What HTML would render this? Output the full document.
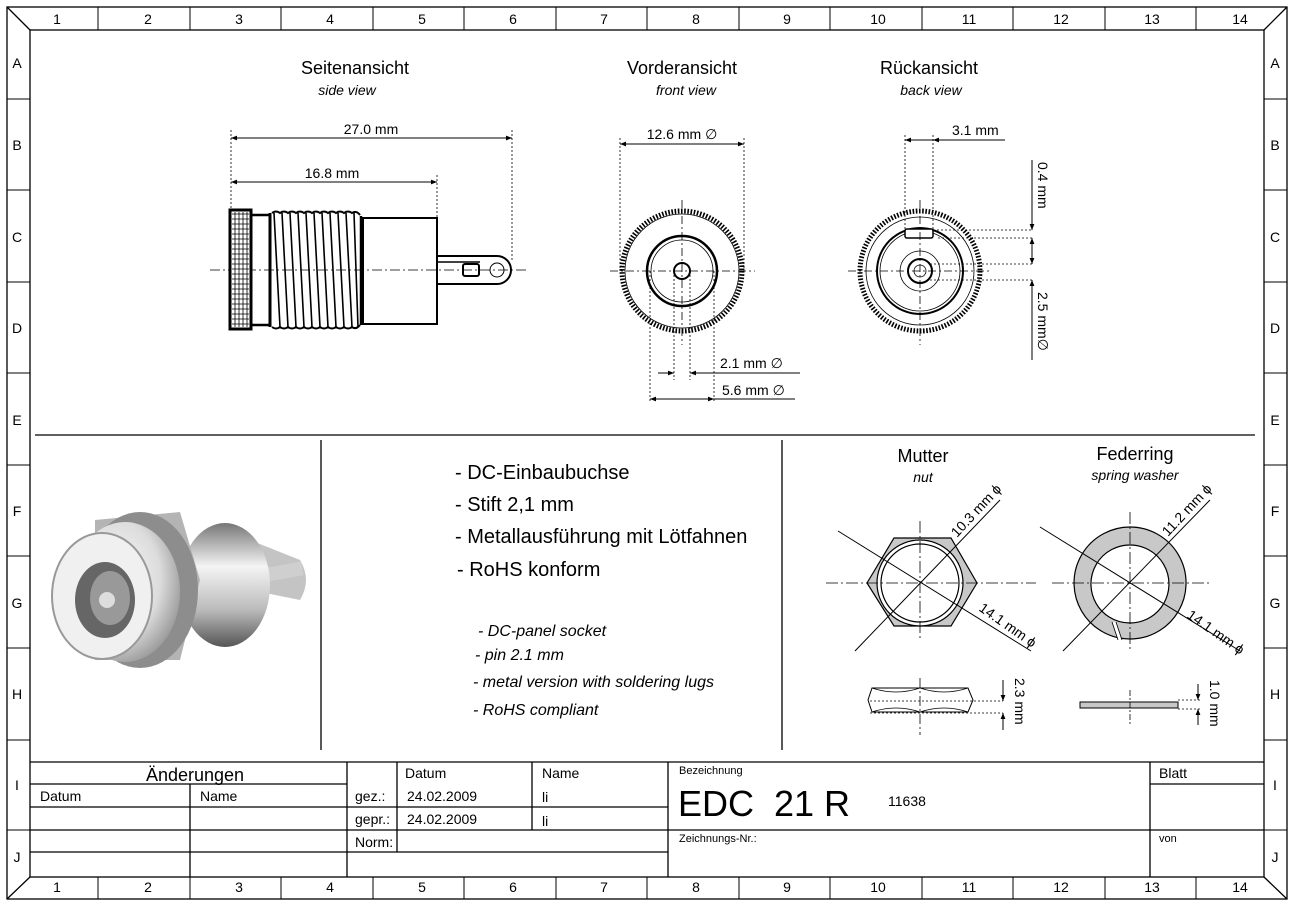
<!DOCTYPE html>
<html><head><meta charset="utf-8"><style>
html,body{margin:0;padding:0;background:#fff}
svg{display:block;font-family:"Liberation Sans",Arial,sans-serif}
</style></head><body>
<svg width="1301" height="911" viewBox="0 0 1301 911" xmlns="http://www.w3.org/2000/svg">
<defs>
<marker id="a" viewBox="0 0 10 10" refX="10" refY="5" markerWidth="9" markerHeight="6" orient="auto-start-reverse" markerUnits="userSpaceOnUse"><path d="M0,1 L10,5 L0,9z" fill="#000"/></marker>
<radialGradient id="g1" cx="0.4" cy="0.4" r="0.7"><stop offset="0" stop-color="#fafafa"/><stop offset="0.6" stop-color="#dcdcdc"/><stop offset="1" stop-color="#8a8a8a"/></radialGradient>
<linearGradient id="g2" x1="0" y1="0" x2="0" y2="1"><stop offset="0" stop-color="#777"/><stop offset="0.35" stop-color="#f4f4f4"/><stop offset="0.7" stop-color="#bbb"/><stop offset="1" stop-color="#555"/></linearGradient>
</defs>
<g fill="none" stroke="#000" stroke-width="1.3">
<rect x="7" y="7" width="1280" height="892"/>
<rect x="30" y="30" width="1234" height="847"/>
<line x1="7" y1="7" x2="30" y2="30"/><line x1="1287" y1="7" x2="1264" y2="30"/>
<line x1="7" y1="899" x2="30" y2="877"/><line x1="1287" y1="899" x2="1264" y2="877"/>
<g stroke-width="1">
<path d="M98,7V30M190,7V30M281,7V30M373,7V30M464,7V30M556,7V30M647,7V30M739,7V30M830,7V30M922,7V30M1013,7V30M1105,7V30M1196,7V30"/>
<path d="M98,877V899M190,877V899M281,877V899M373,877V899M464,877V899M556,877V899M647,877V899M739,877V899M830,877V899M922,877V899M1013,877V899M1105,877V899M1196,877V899"/>
<path d="M7,99H30M7,190H30M7,282H30M7,373H30M7,465H30M7,556H30M7,648H30M7,740H30M7,830H30"/>
<path d="M1264,99H1287M1264,190H1287M1264,282H1287M1264,373H1287M1264,465H1287M1264,556H1287M1264,648H1287M1264,740H1287M1264,830H1287"/>
</g>
<line x1="35" y1="435" x2="1255" y2="435"/>
<line x1="321" y1="440" x2="321" y2="750"/>
<line x1="782" y1="440" x2="782" y2="750"/>
<path d="M30,762H1264M30,784H347M30,807H668M30,830H1264M30,852H668M1150,784H1264"/>
<path d="M190,784V877M347,762V877M397,762V852M532,762V830M668,762V877M1150,762V877"/>
</g>
<g font-size="14" text-anchor="middle">
<text x="57" y="24">1</text><text x="148" y="24">2</text><text x="239" y="24">3</text><text x="330" y="24">4</text><text x="422" y="24">5</text><text x="513" y="24">6</text><text x="604" y="24">7</text><text x="696" y="24">8</text><text x="787" y="24">9</text><text x="878" y="24">10</text><text x="969" y="24">11</text><text x="1061" y="24">12</text><text x="1152" y="24">13</text><text x="1240" y="24">14</text>
<text x="57" y="892">1</text><text x="148" y="892">2</text><text x="239" y="892">3</text><text x="330" y="892">4</text><text x="422" y="892">5</text><text x="513" y="892">6</text><text x="604" y="892">7</text><text x="696" y="892">8</text><text x="787" y="892">9</text><text x="878" y="892">10</text><text x="969" y="892">11</text><text x="1061" y="892">12</text><text x="1152" y="892">13</text><text x="1240" y="892">14</text>
<text x="17" y="68">A</text><text x="17" y="150">B</text><text x="17" y="242">C</text><text x="17" y="333">D</text><text x="17" y="425">E</text><text x="17" y="516">F</text><text x="17" y="608">G</text><text x="17" y="699">H</text><text x="17" y="790">I</text><text x="17" y="862">J</text>
<text x="1275" y="68">A</text><text x="1275" y="150">B</text><text x="1275" y="242">C</text><text x="1275" y="333">D</text><text x="1275" y="425">E</text><text x="1275" y="516">F</text><text x="1275" y="608">G</text><text x="1275" y="699">H</text><text x="1275" y="790">I</text><text x="1275" y="862">J</text>
</g>
<g font-size="14">
<text x="195" y="781" font-size="18" text-anchor="middle">Änderungen</text>
<text x="40" y="801">Datum</text><text x="200" y="801">Name</text>
<text x="405" y="778">Datum</text><text x="542" y="778">Name</text>
<text x="355" y="801">gez.:</text><text x="407" y="801">24.02.2009</text><text x="542" y="802">li</text>
<text x="355" y="824">gepr.:</text><text x="407" y="824">24.02.2009</text><text x="542" y="826">li</text>
<text x="355" y="847">Norm:</text>
<text x="679" y="774" font-size="11">Bezeichnung</text>
<text x="678" y="816" font-size="36">EDC&#160; 21 R</text>
<text x="888" y="806" font-size="14">11638</text>
<text x="679" y="842" font-size="11">Zeichnungs-Nr.:</text>
<text x="1159" y="778">Blatt</text>
<text x="1159" y="842" font-size="11">von</text>
</g>
<g text-anchor="middle">
<text x="355" y="74" font-size="18">Seitenansicht</text><text x="347" y="95" font-size="14" font-style="italic">side view</text>
<text x="682" y="74" font-size="18">Vorderansicht</text><text x="686" y="95" font-size="14" font-style="italic">front view</text>
<text x="929" y="74" font-size="18">Rückansicht</text><text x="931" y="95" font-size="14" font-style="italic">back view</text>
<text x="923" y="462" font-size="18">Mutter</text><text x="923" y="482" font-size="14" font-style="italic">nut</text>
<text x="1135" y="460" font-size="18">Federring</text><text x="1135" y="480" font-size="14" font-style="italic">spring washer</text>
</g>
<g font-size="20"><text x="455" y="479">- DC-Einbaubuchse</text><text x="455" y="511">- Stift 2,1 mm</text><text x="455" y="543">- Metallausführung mit Lötfahnen</text><text x="457" y="576">- RoHS konform</text></g>
<g font-size="16" font-style="italic"><text x="478" y="636">- DC-panel socket</text><text x="475" y="660">- pin 2.1 mm</text><text x="473" y="687">- metal version with soldering lugs</text><text x="473" y="715">- RoHS compliant</text></g>

<g stroke="#000" fill="none">
<line x1="210" y1="270" x2="528" y2="270" stroke-width="0.8" stroke-dasharray="10,3,2,3"/>
<rect x="230" y="210" width="21" height="119" stroke-width="3" fill="#fff"/>
<g stroke-width="0.8"><path d="M232,214H249M232,219H249M232,224H249M232,229H249M232,234H249M232,239H249M232,244H249M232,249H249M232,254H249M232,259H249M232,264H249M232,269H249M232,274H249M232,279H249M232,284H249M232,289H249M232,294H249M232,299H249M232,304H249M232,309H249M232,314H249M232,319H249M232,324H249"/>
<path d="M235,212V327M239,212V327M243,212V327M247,212V327"/></g>
<path d="M251,215H270M251,325H270" stroke-width="2.5"/>
<line x1="270" y1="213" x2="270" y2="327" stroke-width="3"/>
<path d="M272,213 Q276,210 280,213 Q284,210 288,213 Q292,210 296,213 Q300,210 304,213 Q308,210 312,213 Q316,210 320,213 Q324,210 328,213 Q332,210 336,213 Q340,210 344,213 Q348,210 352,213 Q356,210 360,215" stroke-width="2"/>
<path d="M272,327 Q276,330 280,327 Q284,330 288,327 Q292,330 296,327 Q300,330 304,327 Q308,330 312,327 Q316,330 320,327 Q324,330 328,327 Q332,330 336,327 Q340,330 344,327 Q348,330 352,327 Q356,330 360,325" stroke-width="2"/>
<path d="M274,213L280,327M282,213L288,327M290,213L296,327M298,213L304,327M306,213L312,327M314,213L320,327M322,213L328,327M330,213L336,327M338,213L344,327M346,213L352,327M354,213L358,327" stroke-width="1.6"/>
<line x1="361" y1="216" x2="361" y2="325" stroke-width="2.5"/>
<rect x="363" y="218" width="74" height="106" stroke-width="2"/>
<path d="M437,256H497A14,14 0 0 1 497,284H437" stroke-width="2"/>
<line x1="437" y1="262" x2="480" y2="262" stroke-width="1.5"/>
<rect x="463" y="264" width="16" height="12" rx="2" stroke-width="2"/>
<circle cx="497" cy="270" r="7" stroke-width="1"/>
</g>
<g stroke="#000" stroke-width="0.8" stroke-dasharray="2,2" fill="none">
<path d="M231,130V208M437,175V218M512,130V262"/>
<path d="M620,138V271M744,138V271M674,271V380M690,271V380M650,271V402M714,271V402"/>
<path d="M905,135V232M933,135V232"/>
<path d="M933,230H1032M938,238H1032M930,264H1032M930,280H1032"/>
<path d="M870,701H1003M870,713H1003M1178,700H1200M1178,709H1200"/>
</g>
<g stroke="#000" stroke-width="1" fill="none">
<line x1="231" y1="138" x2="512" y2="138" marker-start="url(#a)" marker-end="url(#a)"/>
<line x1="231" y1="182" x2="437" y2="182" marker-start="url(#a)" marker-end="url(#a)"/>
<line x1="620" y1="144" x2="744" y2="144" marker-start="url(#a)" marker-end="url(#a)"/>
<line x1="658" y1="373" x2="674" y2="373" marker-end="url(#a)"/>
<line x1="800" y1="373" x2="690" y2="373" marker-end="url(#a)"/>
<line x1="650" y1="399" x2="795" y2="399" marker-start="url(#a)"/>
<line x1="700" y1="399" x2="714" y2="399" marker-end="url(#a)"/>
<line x1="1005" y1="140" x2="933" y2="140" marker-end="url(#a)"/>
<line x1="905" y1="140" x2="933" y2="140" marker-start="url(#a)"/>
<line x1="1032" y1="160" x2="1032" y2="230" marker-end="url(#a)"/>
<line x1="1032" y1="238" x2="1032" y2="264" marker-start="url(#a)" marker-end="url(#a)"/>
<line x1="1032" y1="360" x2="1032" y2="280" marker-end="url(#a)"/>
<line x1="1003" y1="680" x2="1003" y2="701" marker-end="url(#a)"/>
<line x1="1003" y1="730" x2="1003" y2="713" marker-end="url(#a)"/>
<line x1="1198" y1="684" x2="1198" y2="700" marker-end="url(#a)"/>
<line x1="1198" y1="725" x2="1198" y2="709" marker-end="url(#a)"/>
</g>
<g font-size="14">
<text x="371" y="134" text-anchor="middle">27.0 mm</text>
<text x="332" y="178" text-anchor="middle">16.8 mm</text>
<text x="682" y="139" text-anchor="middle">12.6 mm ∅</text>
<text x="720" y="368">2.1 mm ∅</text>
<text x="722" y="395">5.6 mm ∅</text>
<text x="952" y="135">3.1 mm</text>
<text transform="translate(1038,162) rotate(90)">0.4 mm</text>
<text transform="translate(1038,292) rotate(90)">2.5 mm∅</text>
<text transform="translate(1015,678) rotate(90)">2.3 mm</text>
<text transform="translate(1210,680) rotate(90)">1.0 mm</text>
<text transform="translate(957,538) rotate(-47)">10.3 mm ϕ</text>
<text transform="translate(1168,537) rotate(-47)">11.2 mm ϕ</text>
<text transform="translate(978,610) rotate(35)">14.1 mm ϕ</text>
<text transform="translate(1186,617) rotate(35)">14.1 mm ϕ</text>
</g>

<g stroke="#000" fill="none">
<circle cx="682" cy="271" r="60" stroke-width="5" stroke-dasharray="1.6,1.6"/>
<circle cx="682" cy="271" r="57" stroke-width="0.8"/>
<circle cx="682" cy="271" r="35" stroke-width="2.5"/>
<circle cx="682" cy="271" r="31" stroke-width="0.8"/>
<circle cx="682" cy="271" r="8" stroke-width="2"/>
<g stroke-width="0.8" stroke-dasharray="8,3,2,3"><line x1="610" y1="271" x2="755" y2="271"/><line x1="682" y1="200" x2="682" y2="345"/></g>
</g>
<g stroke="#000" fill="none">
<circle cx="920" cy="271" r="60" stroke-width="5" stroke-dasharray="1.6,1.6"/>
<circle cx="920" cy="271" r="54" stroke-width="0.8"/>
<circle cx="920" cy="271" r="43" stroke-width="2"/>
<circle cx="920" cy="271" r="40" stroke-width="0.8"/>
<circle cx="920" cy="271" r="20" stroke-width="0.8"/>
<circle cx="920" cy="271" r="12" stroke-width="2"/>
<circle cx="920" cy="271" r="6" stroke-width="0.8"/>
<rect x="905" y="229" width="28" height="9" rx="2" stroke-width="1.5" fill="#fff"/>
<g stroke-width="0.8" stroke-dasharray="8,3,2,3"><line x1="848" y1="271" x2="990" y2="271"/><line x1="920" y1="200" x2="920" y2="345"/></g>
</g>
<g stroke="#000" fill="none">
<path d="M867,583L894,538H951L977,583L951,626H894Z" fill="#c8c8c8" stroke-width="1.2"/>
<circle cx="920" cy="583" r="43" fill="#fff" stroke-width="1.2"/>
<circle cx="920" cy="583" r="39" stroke-width="1.2"/>
<g stroke-width="0.8" stroke-dasharray="12,3,2,3"><line x1="826" y1="583" x2="1036" y2="583"/><line x1="920" y1="521" x2="920" y2="641"/></g>
<line x1="838" y1="531" x2="1031" y2="651" stroke-width="1"/>
<line x1="855" y1="651" x2="1000" y2="500" stroke-width="1"/>
<path d="M872,688H968L973,700L968,712H872L868,700Z" stroke-width="1"/>
<path d="M872,688Q896,696 920,688Q944,696 968,688M872,712Q896,704 920,712Q944,704 968,712" stroke-width="0.8"/>
<line x1="920" y1="678" x2="920" y2="735" stroke-width="0.8" stroke-dasharray="10,3,2,3"/>
</g>
<g stroke="#000" fill="none">
<path fill-rule="evenodd" fill="#c8c8c8" stroke-width="1.2" d="M1130,527a56,56 0 1,0 0.1,0zM1130,545a39,39 0 1,1 -0.1,0z"/>
<line x1="1114" y1="622" x2="1120" y2="640" stroke="#fff" stroke-width="3"/>
<line x1="1112" y1="622" x2="1118" y2="640" stroke-width="0.8"/>
<line x1="1116" y1="622" x2="1122" y2="640" stroke-width="0.8"/>
<g stroke-width="0.8" stroke-dasharray="12,3,2,3"><line x1="1052" y1="583" x2="1210" y2="583"/><line x1="1130" y1="512" x2="1130" y2="650"/></g>
<line x1="1040" y1="527" x2="1240" y2="651" stroke-width="1"/>
<line x1="1063" y1="651" x2="1210" y2="500" stroke-width="1"/>
<rect x="1080" y="702" width="98" height="6" fill="#c8c8c8" stroke-width="1"/>
<line x1="1130" y1="690" x2="1130" y2="725" stroke-width="0.8" stroke-dasharray="6,2,2,2"/>
</g>
<g>
<path d="M250,540 L300,560 Q312,580 300,600 L250,590Z" fill="#c4c4c4"/>
<rect x="228" y="568" width="75" height="14" fill="#cfcfcf" transform="rotate(-10 265 575)"/>
<ellipse cx="225" cy="585" rx="45" ry="62" fill="url(#g2)"/>
<path d="M95,520 L180,512 L200,580 L180,660 L95,660Z" fill="#b4b4b4"/>
<ellipse cx="140" cy="590" rx="58" ry="78" fill="#8d8d8d"/>
<ellipse cx="125" cy="592" rx="55" ry="70" fill="url(#g1)"/>
<ellipse cx="102" cy="596" rx="50" ry="63" fill="#f0f0f0" stroke="#999" stroke-width="2"/>
<ellipse cx="105" cy="600" rx="30" ry="38" fill="#666"/>
<ellipse cx="110" cy="598" rx="20" ry="27" fill="#999"/>
<circle cx="107" cy="600" r="8" fill="#ddd"/>
</g>
</svg>
</body></html>
